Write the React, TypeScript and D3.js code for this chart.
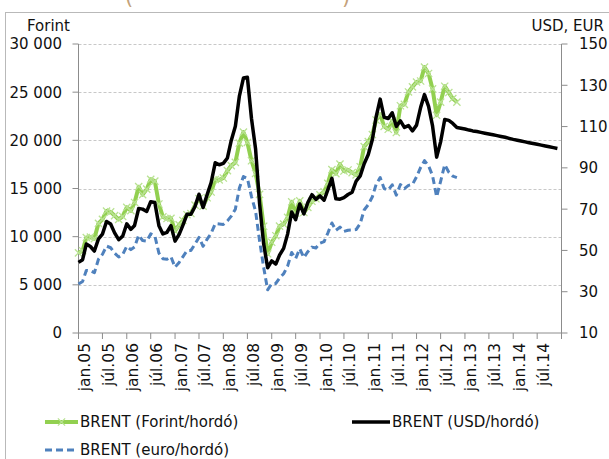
import React from 'react';
import * as d3 from 'd3';

// ---- data (monthly, starting Jan 2005) ----
const usdPerBarrel = [
  44.2, 45.5, 53.1, 51.9, 49.7, 55.6, 57.9, 64.0, 62.8, 58.5, 55.2, 56.9,
  62.9, 60.2, 62.1, 70.3, 70.0, 68.9, 73.6, 73.2, 62.0, 58.0, 58.8, 62.0,
  54.5, 57.8, 62.1, 67.5, 67.5, 71.3, 77.2, 70.8, 77.1, 82.9, 92.5, 91.5,
  92.2, 94.8, 103.3, 110.2, 124.6, 133.5, 133.9, 113.9, 99.1, 72.8, 53.2, 41.6,
  44.9, 43.4, 47.7, 51.0, 57.9, 68.6, 64.9, 72.5, 67.7, 73.2, 77.0, 74.7,
  76.4, 74.3, 79.3, 84.9, 75.0, 74.8, 75.6, 77.1, 78.2, 83.5, 86.1, 92.0,
  96.5, 103.7, 114.6, 123.3, 114.5, 113.9, 116.7, 110.1, 112.8, 109.6, 110.5, 107.9,
  110.7, 119.3, 125.5, 119.8, 110.3, 95.2, 102.6, 113.4, 113.0, 111.5, 109.5, 109.2,
  108.8, 108.3, 107.9, 107.6, 107.2, 106.8, 106.4, 106.0, 105.6, 105.2, 104.8, 104.3,
  103.8, 103.4, 103.0, 102.6, 102.2, 101.8, 101.4, 101.0, 100.6, 100.2, 99.8, 99.4,
];

const eurPerBarrel = [
  33.7, 35.0, 40.3, 40.1, 39.2, 45.7, 48.1, 52.1, 51.3, 48.7, 46.8, 48.0,
  52.0, 50.4, 51.7, 57.3, 54.8, 54.5, 58.0, 57.1, 48.7, 46.0, 45.7, 46.9,
  41.9, 44.2, 46.9, 49.9, 50.0, 53.1, 56.3, 52.0, 55.5, 58.3, 63.0, 62.8,
  62.6, 64.3, 66.6, 70.0, 80.1, 85.8, 84.9, 76.1, 69.0, 54.7, 41.8, 30.9,
  33.9, 34.0, 36.6, 38.7, 42.4, 49.0, 46.1, 50.8, 46.5, 49.4, 51.6, 51.2,
  53.5, 54.3, 58.4, 63.3, 59.7, 61.3, 59.2, 59.8, 59.9, 60.1, 63.0, 69.6,
  72.2, 76.0, 81.9, 85.3, 80.0, 79.2, 81.8, 76.8, 81.9, 79.9, 81.5, 81.9,
  85.7, 90.2, 93.5, 91.0, 86.2, 76.0, 83.5, 91.5, 87.9, 86.0, 85.3,
];

const hufPerBarrel = [
  8320, 8540, 9910, 9950, 9800, 11380, 11790, 12660, 12570, 12180, 11790, 12100,
  13050, 12700, 13550, 15190, 14360, 14930, 15950, 15760, 13390, 12050, 11880, 11910,
  10600, 11230, 11680, 12280, 12400, 13280, 13960, 13160, 14040, 14630, 15940, 15890,
  16090, 16850, 17380, 17710, 19710, 20850, 19780, 17880, 16560, 14390, 11080, 8220,
  9420, 10100, 11090, 11300, 12000, 13620, 12450, 13720, 12510, 13040, 13670, 13930,
  14340, 14660, 15530, 16960, 16540, 17530, 16810, 16920, 16650, 16410, 17260, 19350,
  19860, 20600, 22110, 22690, 21440, 21150, 22000, 20810, 23590, 23730, 25020, 25550,
  26050, 26160, 27600, 26940, 25340, 22600, 23970, 25620, 24960, 24340, 23970,
];

const leftTicks = [0, 5000, 10000, 15000, 20000, 25000, 30000];
const leftTickLabels = ['0', '5 000', '10 000', '15 000', '20 000', '25 000', '30 000'];
const rightTicks = [10, 30, 50, 70, 90, 110, 130, 150];
const xTickLabels = [
  'jan.05', 'júl.05', 'jan.06', 'júl.06', 'jan.07', 'júl.07', 'jan.08', 'júl.08',
  'jan.09', 'júl.09', 'jan.10', 'júl.10', 'jan.11', 'júl.11', 'jan.12', 'júl.12',
  'jan.13', 'júl.13', 'jan.14', 'júl.14',
];
const seriesNames = ['BRENT (Forint/hordó)', 'BRENT (USD/hordó)', 'BRENT (euro/hordó)'];

const FONT = "'DejaVu Sans', Verdana, sans-serif";
const GREEN = '#92D050';
const GREEN_MARK = '#b9e293';
const BLUE = '#4F81BD';

const monthDate = (i: number) => new Date(2005, i, 1);

export default function App() {
  const left = 78.5, right = 561.5, top = 44, bottom = 333;
  const x = d3.scaleTime().domain([new Date(2005, 0, 1), new Date(2015, 0, 1)]).range([left, right]);
  const yL = d3.scaleLinear().domain([0, 30000]).range([bottom, top]);
  const yR = d3.scaleLinear().domain([10, 150]).range([bottom, top]);

  const lineL = d3.line<number>().x((_, i) => x(monthDate(i))).y((d) => yL(d));
  const lineR = d3.line<number>().x((_, i) => x(monthDate(i))).y((d) => yR(d));

  const xTickDates = d3.range(0, 121, 6).map(monthDate);

  const mk = 3.6;
  return (
    <svg width={609} height={459} style={{ position: 'absolute', left: 0, top: 0 }} fontFamily={FONT}>
      <rect x={0} y={0} width={609} height={459} fill="#fff" />
      {/* partially visible title (clipped at the top edge, as in the reference) */}
      <text x={125} y={4} fontSize={21} fill="#c4a27a">(</text>
      <text x={342} y={4} fontSize={21} fill="#c4a27a">)</text>
      {/* outer frame */}
      <line x1={5} y1={12.5} x2={609} y2={12.5} stroke="#b9b9b9" />
      <line x1={5.5} y1={12} x2={5.5} y2={459} stroke="#b9b9b9" />

      {/* gridlines */}
      {leftTicks.filter((t) => t > 0).map((t) => (
        <line key={t} x1={left} x2={right} y1={Math.round(yL(t)) + 0.5} y2={Math.round(yL(t)) + 0.5}
          stroke="#c8c8c8" strokeDasharray="3,2" />
      ))}

      {/* axes */}
      <line x1={left} x2={left} y1={top} y2={bottom} stroke="#8c8c8c" />
      <line x1={right} x2={right} y1={top} y2={bottom} stroke="#8c8c8c" />
      <line x1={left} x2={right} y1={bottom} y2={bottom} stroke="#8c8c8c" />

      {leftTicks.map((t, i) => (
        <g key={t}>
          <line x1={left - 6} x2={left} y1={yL(t)} y2={yL(t)} stroke="#8c8c8c" />
          <text x={62} y={yL(t)} dy="0.36em" textAnchor="end" fontSize={15} fill="#111">{leftTickLabels[i]}</text>
        </g>
      ))}
      {rightTicks.map((t) => (
        <g key={t}>
          <line x1={right} x2={right + 6} y1={yR(t)} y2={yR(t)} stroke="#8c8c8c" />
          <text x={579} y={yR(t)} dy="0.36em" fontSize={15} fill="#111">{t}</text>
        </g>
      ))}
      {xTickDates.map((d, i) => (
        <g key={i}>
          <line x1={x(d)} x2={x(d)} y1={bottom} y2={bottom + 6} stroke="#8c8c8c" />
          {i < xTickLabels.length && (
            <text transform={`translate(${x(d) + 11.5},${bottom + 10}) rotate(-90)`} textAnchor="end"
              fontSize={15.5} fill="#111">{xTickLabels[i]}</text>
          )}
        </g>
      ))}

      <text x={27} y={31} fontSize={15} fill="#111">Forint</text>
      <text x={604} y={31} fontSize={15} fill="#111" textAnchor="end">USD, EUR</text>

      {/* series */}
      <path d={lineL(hufPerBarrel) || ''} fill="none" stroke={GREEN} strokeWidth={4} strokeLinejoin="round" />
      {hufPerBarrel.map((v, i) => {
        const cx = x(monthDate(i)), cy = yL(v);
        return (
          <path key={i} d={`M${cx - mk},${cy - mk}L${cx + mk},${cy + mk}M${cx - mk},${cy + mk}L${cx + mk},${cy - mk}`}
            stroke={GREEN_MARK} strokeWidth={1.3} fill="none" />
        );
      })}
      <path d={lineR(usdPerBarrel) || ''} fill="none" stroke="#000" strokeWidth={3.5} strokeLinejoin="round" />
      <path d={lineR(eurPerBarrel) || ''} fill="none" stroke={BLUE} strokeWidth={3} strokeDasharray="7,4" strokeLinejoin="round" />

      {/* legend */}
      <g fontSize={15} fill="#111">
        <line x1={45} x2={78} y1={422} y2={422} stroke={GREEN} strokeWidth={4} />
        <path d={`M${61.5 - mk},${422 - mk}L${61.5 + mk},${422 + mk}M${61.5 - mk},${422 + mk}L${61.5 + mk},${422 - mk}`}
          stroke={GREEN_MARK} strokeWidth={1.3} />
        <text x={80} y={422} dy="0.36em">{seriesNames[0]}</text>
        <line x1={352} x2={390} y1={422} y2={422} stroke="#000" strokeWidth={3.5} />
        <text x={392} y={422} dy="0.36em">{seriesNames[1]}</text>
        <line x1={45} x2={78} y1={450} y2={450} stroke={BLUE} strokeWidth={3} strokeDasharray="7,4" />
        <text x={80} y={450} dy="0.36em">{seriesNames[2]}</text>
      </g>
    </svg>
  );
}
